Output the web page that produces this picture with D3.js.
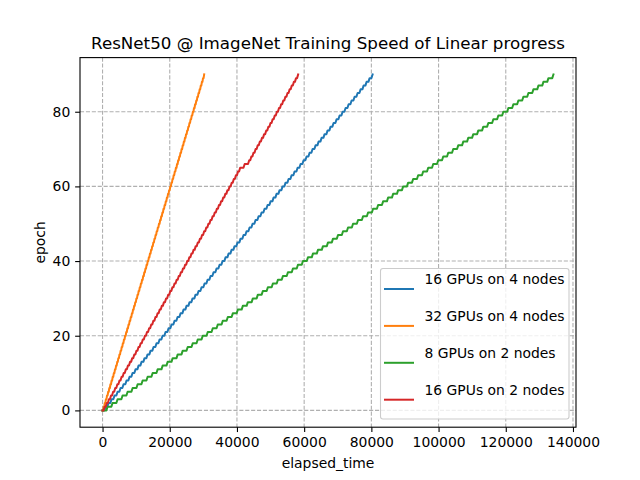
<!DOCTYPE html>
<html>
<head>
<meta charset="utf-8">
<script src="https://cdn.jsdelivr.net/npm/d3@7"></script>
<style>
  body { margin: 0; background: #fff; }
  text { font-family: "DejaVu Sans", sans-serif; }
</style>
</head>
<body>
<svg id="chart" width="640" height="480"></svg>
<script>
// ---------- data (time in seconds at which each epoch 0..90 is reached) ----------
const epochs = d3.range(0, 91);
const seriesNames = ["16 GPUs on 4 nodes", "32 GPUs on 4 nodes", "8 GPUs on 2 nodes", "16 GPUs on 2 nodes"];
const seriesColors = ["#1f77b4", "#ff7f0e", "#2ca02c", "#d62728"];

const times16gpu4nodes = [0,890,1790,2680,3570,4470,5360,6250,7140,8040,8930,
  9820,10720,11610,12500,13400,14290,15180,16070,16970,17860,
  18750,19650,20540,21430,22330,23220,24110,25000,25900,26790,
  27680,28580,29470,30360,31260,32150,33040,33930,34830,35720,
  36610,37510,38400,39290,40190,41080,41970,42860,43760,44650,
  45540,46440,47330,48220,49120,50010,50900,51790,52690,53580,
  54470,55370,56260,57150,58050,58940,59830,60720,61620,62510,
  63400,64300,65190,66080,66980,67870,68760,69650,70550,71440,
  72330,73230,74120,75010,75910,76800,77690,78580,79480,80370];

const times32gpu4nodes = [0,340,670,1010,1340,1680,2020,2350,2690,3020,3360,
  3700,4030,4370,4700,5040,5380,5710,6050,6380,6720,
  7060,7390,7730,8060,8400,8740,9070,9410,9740,10080,
  10420,10750,11090,11420,11760,12100,12430,12770,13100,13440,
  13780,14110,14450,14780,15120,15460,15790,16130,16460,16800,
  17140,17470,17810,18140,18480,18820,19150,19490,19820,20160,
  20500,20830,21170,21500,21840,22180,22510,22850,23180,23520,
  23860,24190,24530,24860,25200,25540,25870,26210,26540,26880,
  27220,27550,27890,28220,28560,28900,29230,29570,29900,30240];

const times8gpu2nodes = [0,1490,2980,4470,5960,7460,8950,10440,11930,13420,14910,
  16400,17890,19380,20870,22370,23860,25350,26840,28330,29820,
  31310,32800,34290,35780,37280,38770,40260,41750,43240,44730,
  46220,47710,49200,50690,52190,53680,55170,56660,58150,59640,
  61130,62620,64110,65600,67100,68590,70080,71570,73060,74550,
  76040,77530,79020,80510,82010,83500,84990,86480,87970,89460,
  90950,92440,93930,95420,96920,98410,99900,101390,102880,104370,
  105860,107350,108840,110330,111830,113320,114810,116300,117790,119280,
  120770,122260,123750,125240,126740,128230,129720,131210,132700,134190];

const times16gpu2nodes = [0,630,1260,1890,2520,3150,3780,4410,5040,5670,6300,
  6930,7560,8190,8820,9450,10080,10710,11340,11970,12600,
  13230,13860,14490,15120,15750,16380,17010,17640,18270,18900,
  19530,20160,20790,21420,22050,22680,23310,23940,24570,25200,
  25830,26460,27090,27720,28350,28980,29610,30240,30870,31500,
  32130,32760,33390,34020,34650,35280,35910,36540,37170,37800,
  38430,39060,39690,40320,40950,42300,43650,44283,44916,45549,
  46182,46815,47448,48081,48714,49347,49980,50613,51246,51879,
  52512,53145,53778,54411,55044,55677,56310,56943,57576,58209];

const xTicks = [0, 20000, 40000, 60000, 80000, 100000, 120000, 140000];
const yTicks = [0, 20, 40, 60, 80];

const seriesTimes = [times16gpu4nodes, times32gpu4nodes, times8gpu2nodes, times16gpu2nodes];

// ---------- layout ----------
const L = 80, R = 576, T = 57.6, B = 427.2;
const svg = d3.select("#chart");

const allT = seriesTimes.flat();
const tMin = d3.min(allT), tMax = d3.max(allT);
const tPad = (tMax - tMin) * 0.05;
const eMin = d3.min(epochs), eMax = d3.max(epochs);
const ePad = (eMax - eMin) * 0.05;

const x = d3.scaleLinear().domain([tMin - tPad, tMax + tPad]).range([L, R]);
const y = d3.scaleLinear().domain([eMin - ePad, eMax + ePad]).range([B, T]);

svg.append("rect").attr("x", 0).attr("y", 0).attr("width", 640).attr("height", 480).attr("fill", "#fff");

// grid
const grid = svg.append("g");
grid.selectAll(".gx").data(xTicks).enter().append("line")
  .attr("x1", d => x(d)).attr("x2", d => x(d)).attr("y1", T).attr("y2", B)
  .attr("stroke", "#b0b0b0").attr("stroke-width", 1.1).attr("stroke-dasharray", "4.1,1.8");
grid.selectAll(".gy").data(yTicks).enter().append("line")
  .attr("y1", d => y(d)).attr("y2", d => y(d)).attr("x1", L).attr("x2", R)
  .attr("stroke", "#b0b0b0").attr("stroke-width", 1.1).attr("stroke-dasharray", "4.1,1.8");

// clip
svg.append("clipPath").attr("id", "clip").append("rect")
  .attr("x", L).attr("y", T).attr("width", R - L).attr("height", B - T);

// staircase: hold the epoch value, then rise over a short span to the next epoch
const rise = 1.2;
function stairPath(ts) {
  const p = d3.path();
  p.moveTo(x(ts[0]), y(epochs[0]));
  for (let k = 1; k < ts.length; k++) {
    const x0 = x(ts[k - 1]), x1 = x(ts[k]);
    const xr = Math.max(x0, x1 - Math.min(rise, (x1 - x0) * 0.5));
    p.lineTo(xr, y(epochs[k - 1]));
    p.lineTo(x1, y(epochs[k]));
  }
  return p.toString();
}
const plot = svg.append("g").attr("clip-path", "url(#clip)");
seriesTimes.forEach((ts, i) => {
  plot.append("path").attr("d", stairPath(ts)).attr("fill", "none")
    .attr("stroke", seriesColors[i]).attr("stroke-width", 2)
    .attr("stroke-linejoin", "round").attr("stroke-linecap", "square");
});

// axes
const fs = 13.9;
const xAxis = d3.axisBottom(x).tickValues(xTicks).tickFormat(d3.format("d")).tickSize(4.86).tickPadding(4.86);
const yAxis = d3.axisLeft(y).tickValues(yTicks).tickFormat(d3.format("d")).tickSize(4.86).tickPadding(4.86);
const gx = svg.append("g").attr("transform", `translate(0,${B})`).call(xAxis);
const gy = svg.append("g").attr("transform", `translate(${L},0)`).call(yAxis);
[gx, gy].forEach(g => {
  g.select(".domain").remove();
  g.selectAll(".tick line").attr("stroke", "#000").attr("stroke-width", 1.1);
  g.selectAll(".tick text").attr("fill", "#000").style("font-size", fs + "px").style("font-family", "DejaVu Sans");
});

// spines
svg.append("rect").attr("x", L).attr("y", T).attr("width", R - L).attr("height", B - T)
  .attr("fill", "none").attr("stroke", "#000").attr("stroke-width", 1.1);

// title & labels
svg.append("text").attr("x", (L + R) / 2).attr("y", 49.3).attr("text-anchor", "middle")
  .style("font-size", "16.7px").text("ResNet50 @ ImageNet Training Speed of Linear progress");
svg.append("text").attr("x", (L + R) / 2).attr("y", 468).attr("text-anchor", "middle")
  .style("font-size", fs + "px").text("elapsed_time");
svg.append("text").attr("transform", `translate(45,${(T + B) / 2}) rotate(-90)`).attr("text-anchor", "middle")
  .style("font-size", fs + "px").text("epoch");

// legend
const lg = svg.append("g");
lg.append("rect").attr("x", 380.5).attr("y", 268.5).attr("width", 188.5).attr("height", 150.5)
  .attr("rx", 2.5).attr("ry", 2.5)
  .attr("fill", "rgba(255,255,255,0.8)").attr("stroke", "#cccccc").attr("stroke-width", 1.1);
seriesNames.forEach((name, i) => {
  const hy = 289 + i * 36.9;
  lg.append("line").attr("x1", 384).attr("x2", 414).attr("y1", hy).attr("y2", hy)
    .attr("stroke", seriesColors[i]).attr("stroke-width", 2);
  lg.append("text").attr("x", 424.5).attr("y", hy - 4.6)
    .style("font-size", fs + "px").attr("fill", "#000").text(name);
});
</script>
</body>
</html>
